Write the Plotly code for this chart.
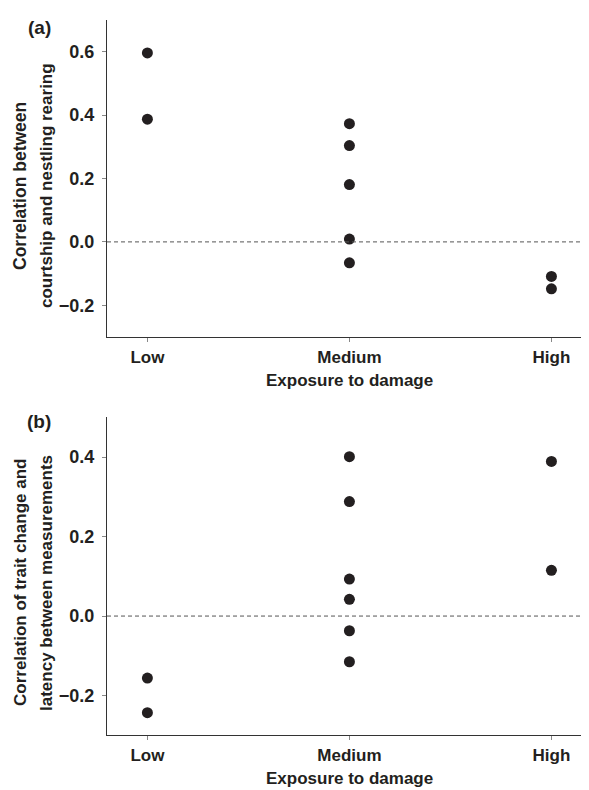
import plotly.graph_objects as go

# ---- data ----
categories = ["Low", "Medium", "High"]

# Panel (a): correlation between courtship and nestling rearing
a_low = [0.596, 0.387]
a_medium = [0.373, 0.304, 0.181, 0.009, -0.066]
a_high = [-0.109, -0.148]

# Panel (b): correlation of trait change and latency between measurements
b_low = [-0.156, -0.243]
b_medium = [0.401, 0.288, 0.093, 0.042, -0.037, -0.115]
b_high = [0.389, 0.115]

a_yticks = [-0.2, 0.0, 0.2, 0.4, 0.6]
b_yticks = [-0.2, 0.0, 0.2, 0.4]

# the page body adds an 8px margin; size the figure to fill the rest
OFF = 8
W, H = 589 - OFF, 790 - OFF
FONT = "Liberation Sans, Arial, Helvetica, sans-serif"
TXT = "#231f20"
AX = "#333333"

def px_x(p):
    return (p - OFF) / W

def px_y(p):
    return 1 - (p - OFF) / H

fig = go.Figure()

def add_group(vals_by_cat, xa, ya):
    xs, ys = [], []
    for i, vals in enumerate(vals_by_cat):
        for v in vals:
            xs.append(i + 1)
            ys.append(v)
    fig.add_trace(go.Scatter(
        x=xs, y=ys, mode="markers", xaxis=xa, yaxis=ya,
        marker=dict(size=11, color="#231f20", line=dict(width=0)),
        showlegend=False, hoverinfo="y"))

add_group([a_low, a_medium, a_high], "x", "y")
add_group([b_low, b_medium, b_high], "x2", "y2")

xdom = [px_x(107), 1.0]
ya_dom = [px_y(337), px_y(20)]
yb_dom = [px_y(735.3), px_y(417.3)]

xcommon = dict(
    range=[0.8, 3.186], tickmode="array", tickvals=[1, 2, 3], ticktext=categories,
    showgrid=False, zeroline=False, showline=True, linecolor=AX, linewidth=1.3,
    ticks="outside", ticklen=4, tickcolor="#888888", tickwidth=1,
    ticklabelstandoff=0,
    tickfont=dict(family=FONT, size=17, color=TXT, weight="bold"),
    domain=xdom, fixedrange=True,
)
ycommon = dict(
    showgrid=False, zeroline=False, showline=True, linecolor=AX, linewidth=1.3,
    ticks="outside", ticklen=4, tickcolor="#888888", tickwidth=1,
    ticklabelstandoff=4,
    tickfont=dict(family=FONT, size=18, color=TXT, weight="bold"),
    fixedrange=True,
)

fig.update_layout(
    width=W, height=H,
    margin=dict(l=0, r=0, t=0, b=0),
    paper_bgcolor="white", plot_bgcolor="white",
    xaxis=dict(**xcommon, anchor="y"),
    xaxis2=dict(**xcommon, anchor="y2"),
    yaxis=dict(**ycommon, range=[-0.3, 0.7], tickvals=a_yticks,
               ticktext=["\u22120.2", "0.0", "0.2", "0.4", "0.6"],
               domain=ya_dom, anchor="x"),
    yaxis2=dict(**ycommon, range=[-0.3, 0.5], tickvals=b_yticks,
                ticktext=["\u22120.2", "0.0", "0.2", "0.4"],
                domain=yb_dom, anchor="x2"),
)

# dashed zero lines
for xr, yr in (("x domain", "y"), ("x2 domain", "y2")):
    fig.add_shape(type="line", xref=xr, yref=yr, x0=0, x1=1, y0=0, y1=0,
                  line=dict(color="#555555", width=1, dash="4px,3px"))

def ann(text, x, y, size=17, angle=0):
    fig.add_annotation(
        text=text, xref="paper", yref="paper", x=px_x(x), y=px_y(y),
        xanchor="center", yanchor="middle", showarrow=False, textangle=angle,
        borderpad=0,
        font=dict(family=FONT, size=size, color=TXT, weight="bold"))

# panel labels
ann("(a)", 39, 27, size=19)
ann("(b)", 39, 421, size=19)

# x-axis titles
ann("Exposure to damage", 349, 381, size=17)
ann("Exposure to damage", 349, 778, size=17)

# y-axis titles (two lines each)
ann("Correlation between", 20, 186, angle=-90, size=17.5)
ann("courtship and nestling rearing", 46, 186, angle=-90)
ann("Correlation of trait change and", 20, 583, angle=-90)
ann("latency between measurements", 46, 583, angle=-90)

fig.write_html("out.html")
